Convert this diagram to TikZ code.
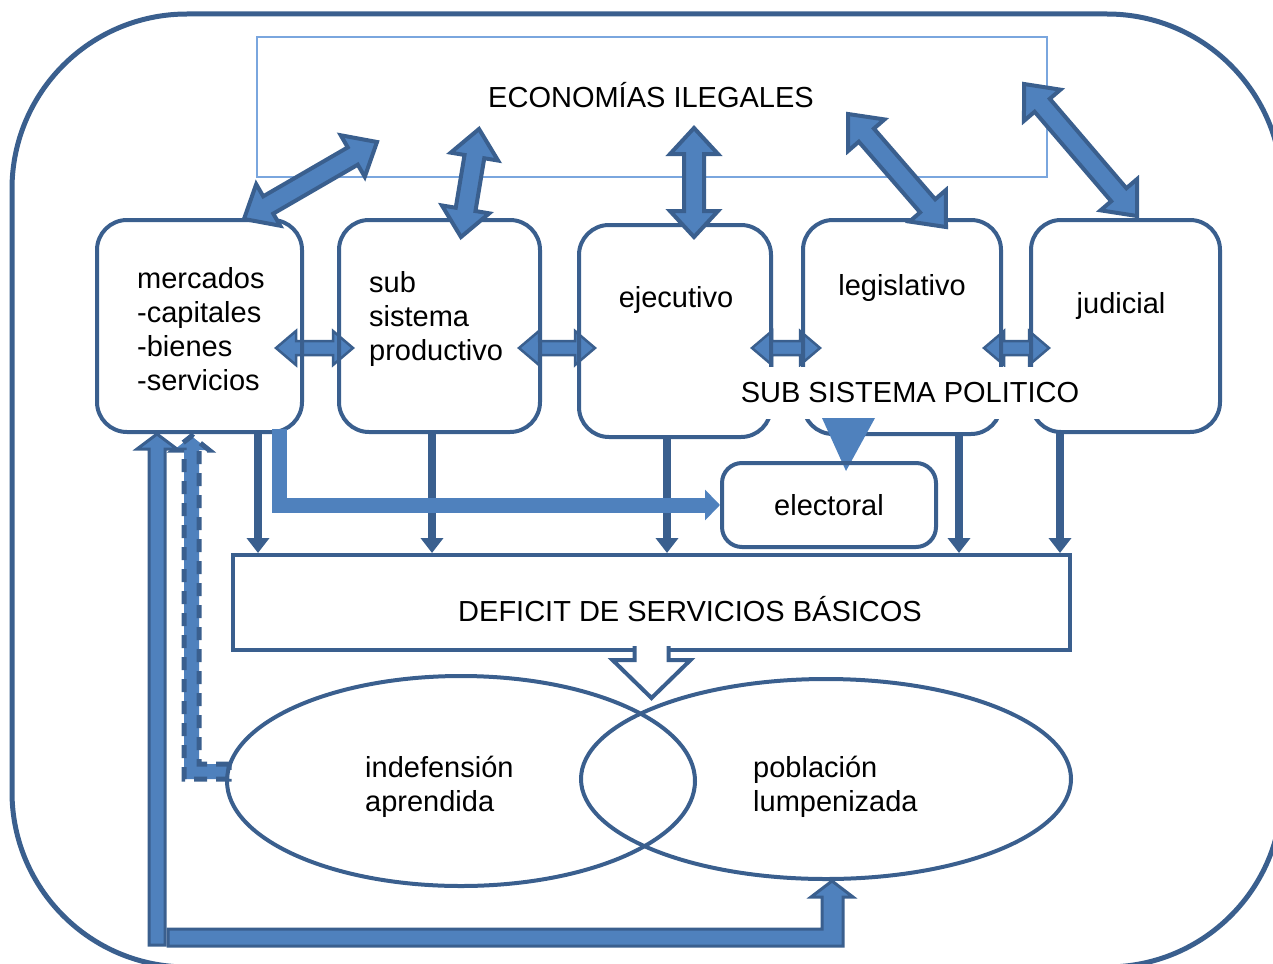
\documentclass[tikz,border=0pt]{standalone}
\usepackage{fontspec}
\setmainfont{Liberation Sans}
\usetikzlibrary{calc,arrows.meta,shapes.geometric}
\definecolor{dkblue}{HTML}{3A5F8E}
\definecolor{midblue}{HTML}{4F81BD}
\definecolor{ltblue}{HTML}{7AA6DE}
\tikzstyle{caja} = [draw=dkblue,line width=4pt,rounded corners=30pt,inner sep=0pt]
\tikzstyle{txt} = [inner sep=0pt,align=left]
\tikzstyle{flecha} = [draw=dkblue,fill=midblue,line width=3pt,line join=miter]
\tikzstyle{baja} = [draw=dkblue,line width=8pt,-{Triangle[width=22pt,length=15pt]}]

% flecha doble de bloque: extremos #2 #3, semiancho #4, semicabeza #5, largo cabeza #6
\newcommand{\dflecha}[6][]{%
  \draw[flecha,#1] (#2)
    -- ($(#2)!#6!(#3)!#5!90:(#3)$) -- ($(#2)!#6!(#3)!#4!90:(#3)$)
    -- ($(#3)!#6!(#2)!#4!-90:(#2)$) -- ($(#3)!#6!(#2)!#5!-90:(#2)$)
    -- (#3)
    -- ($(#3)!#6!(#2)!#5!90:(#2)$) -- ($(#3)!#6!(#2)!#4!90:(#2)$)
    -- ($(#2)!#6!(#3)!#4!-90:(#3)$) -- ($(#2)!#6!(#3)!#5!-90:(#3)$)
    -- cycle;}

\begin{document}
\begin{tikzpicture}[x=1pt,y=-1pt,every node/.style={font=\fontsize{29}{34}\selectfont}]
    \useasboundingbox (0,0) rectangle (1273,963);
    \clip (0,0) rectangle (1273,963);

    \draw[dkblue,line width=5pt,rounded corners=175pt] (12,14) rectangle (1282,967);

    \node[draw=ltblue,line width=1.5pt,minimum width=790pt,minimum height=140pt,inner sep=0pt] (econ) at (652,107) {};
    \node[txt,anchor=base] (econ-t) at (651,107) {ECONOMÍAS ILEGALES};

    % flechas entre cajas
    \coordinate (h1a) at (276,348); \coordinate (h1b) at (353,348);
    \coordinate (h2a) at (519,348); \coordinate (h2b) at (595,348);
    \coordinate (h3a) at (752,348); \coordinate (h3b) at (820,348);
    \coordinate (h4a) at (984,348); \coordinate (h4b) at (1049,348);
    \dflecha[line width=2.5pt]{h1a}{h1b}{7pt}{17pt}{20pt}
    \dflecha[line width=2.5pt]{h2a}{h2b}{7pt}{17pt}{20pt}
    \dflecha[line width=2.5pt]{h3a}{h3b}{7pt}{17pt}{20pt}
    \dflecha[line width=2.5pt]{h4a}{h4b}{7pt}{17pt}{20pt}

    \node[caja,minimum width=205pt,minimum height=212pt] (merc) at (199.5,326) {};
    \node[caja,minimum width=201pt,minimum height=212pt] (prod) at (439.5,326) {};
    \node[caja,minimum width=192pt,minimum height=212pt] (ejec) at (675,331) {};
    \node[caja,minimum width=198pt,minimum height=214pt] (legi) at (902,327) {};
    \node[caja,minimum width=189pt,minimum height=212pt] (judi) at (1125.5,326) {};

    \node[txt,anchor=base west] (merc-t) at (137,390) {mercados\\-capitales\\-bienes\\-servicios};
    \node[txt,anchor=base west] (prod-t) at (369,360) {sub\\sistema\\productivo};
    \node[txt,anchor=base] (ejec-t) at (676,307) {ejecutivo};
    \node[txt,anchor=base] (legi-t) at (902,295) {legislativo};
    \node[txt,anchor=base] (judi-t) at (1121,313) {judicial};
    \node[fill=white,inner xsep=2pt,inner ysep=0pt,minimum height=52pt,anchor=base] (pol) at (910,402.5) {SUB SISTEMA POLITICO};
    \fill[midblue] (822,418) -- (875,418) -- (846,471) -- cycle;

    % flechas a las economias ilegales
    \coordinate (g1a) at (244,219); \coordinate (g1b) at (377,142);
    \coordinate (g2a) at (461,237); \coordinate (g2b) at (479,129);
    \coordinate (g3a) at (694,237); \coordinate (g3b) at (694,128);
    \coordinate (g4a) at (946,227); \coordinate (g4b) at (848,114);
    \coordinate (g5a) at (1137,216); \coordinate (g5b) at (1024,84);
    \dflecha[line width=4pt]{g1a}{g1b}{10pt}{24pt}{28pt}
    \dflecha[line width=4pt]{g2a}{g2b}{10pt}{24pt}{28pt}
    \dflecha[line width=4pt]{g3a}{g3b}{10pt}{24pt}{26pt}
    \dflecha[line width=4pt]{g4a}{g4b}{10pt}{24pt}{28pt}
    \dflecha[line width=4pt]{g5a}{g5b}{10pt}{24pt}{28pt}

    \node[draw=dkblue,line width=4pt,minimum width=837pt,minimum height=95pt,inner sep=0pt] (defi) at (651.5,602.5) {};
    \node[txt,anchor=base] (defi-t) at (690,621) {DEFICIT DE SERVICIOS BÁSICOS};

    \coordinate (d1) at (258,432); \coordinate (d2) at (432,432);
    \coordinate (d3) at (667,436); \coordinate (d4) at (959,434);
    \coordinate (d5) at (1060,432);
    \draw[baja] (d1) -- (d1 |- defi.north);
    \draw[baja] (d2) -- (d2 |- defi.north);
    \draw[baja] (d3) -- (d3 |- defi.north);
    \draw[baja] (d4) -- (d4 |- defi.north);
    \draw[baja] (d5) -- (d5 |- defi.north);

    \node[caja,rounded corners=20pt,minimum width=214pt,minimum height=84pt] (elec) at (829,505) {electoral};
    \coordinate (e0) at (279.5,429);
    \draw[midblue,line width=15pt,-{Triangle[width=30pt,length=15pt]}] (e0) |- (elec.west);

    % flecha hueca hacia la poblacion
    \coordinate (hs) at ($(defi.south)+(0,-2)$);
    \draw[draw=dkblue,fill=white,line width=4pt,line join=miter] ($(hs)+(-17,-4)$) -- ($(hs)+(-17,10)$)
        -- ($(hs)+(-39,10)$) -- ($(hs)+(0,48)$) -- ($(hs)+(39,10)$) -- ($(hs)+(17,10)$) -- ($(hs)+(17,-4)$);

    % retroalimentacion
    \coordinate (dtop) at (191.5,436); \coordinate (dend) at (229,771.5);
    \draw[flecha,line width=5pt,dash pattern=on 13pt off 9pt] ($(dend)+(0,-7.5)$) -| ($(dtop)+(7.5,14)$) -- ++(10,0)
        -- (dtop) -- ++(-17.5,14) -- ++(10,0) |- ($(dend)+(0,7.5)$) -- cycle;

    \node[draw=dkblue,line width=4pt,ellipse,inner sep=0pt,minimum width=468pt,minimum height=210pt] (indef) at (461,781) {};
    \node[draw=dkblue,line width=4pt,ellipse,inner sep=0pt,minimum width=490pt,minimum height=200pt] (pobl) at (826,779) {};
    \node[txt,anchor=base west] (indef-t) at (365,811) {indefensión\\aprendida};
    \node[txt,anchor=base west] (pobl-t) at (753,811) {población\\lumpenizada};

    \coordinate (vtop) at (157,434); \coordinate (vbot) at (157,945);
    \draw[flecha] ($(vbot)+(-8,0)$) -- ($(vtop)+(-8,15)$) -- ++(-12,0) -- (vtop) -- ++(20,15) -- ++(-12,0)
        -- ($(vbot)+(8,0)$) -- cycle;
    \coordinate (btip) at (832,881); \coordinate (bstart) at (168,937.5);
    \draw[flecha] ($(bstart)+(0,-8.5)$) -| ($(btip)+(-10,16)$) -- ++(-11,0) -- (btip) -- ++(21,16) -- ++(-10,0)
        |- ($(bstart)+(0,8.5)$) -- cycle;
\end{tikzpicture}
\end{document}
